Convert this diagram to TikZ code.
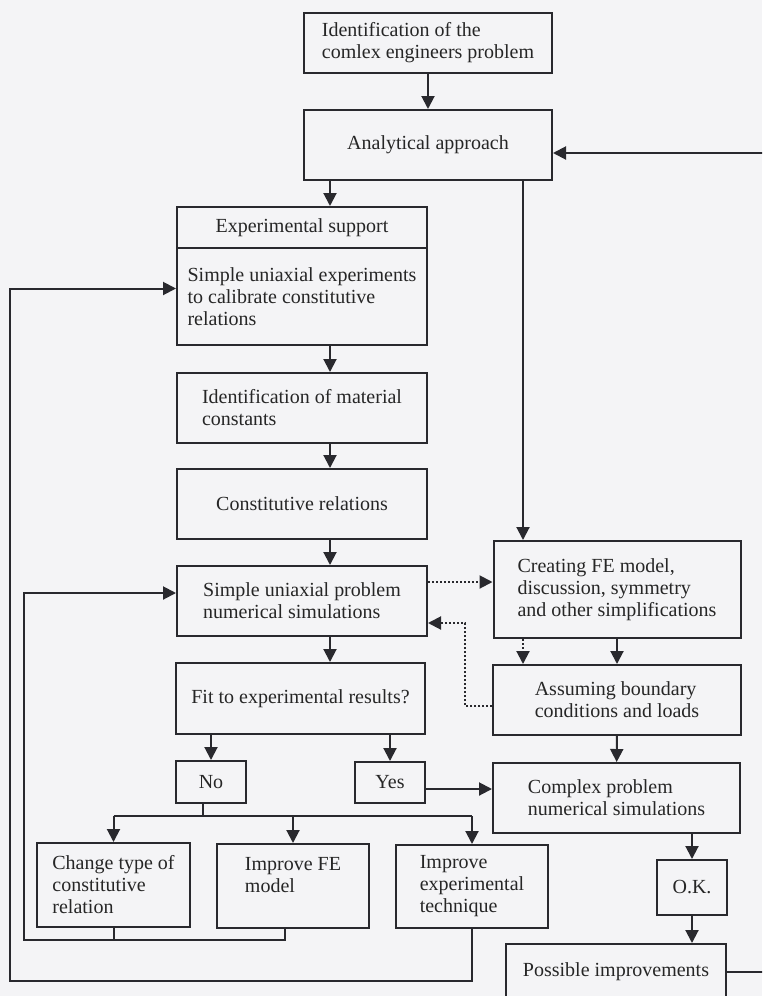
\documentclass[tikz,border=0pt]{standalone}
\usepackage{fontspec}
\setmainfont{Liberation Serif}
\usetikzlibrary{arrows.meta}
\definecolor{paper}{rgb}{0.955,0.955,0.965}
\definecolor{ink}{rgb}{0.16,0.16,0.18}

\begin{document}
\begin{tikzpicture}[x=0.5pt, y=-0.5pt, box/.style = {shape=rectangle, draw=ink, line width=1pt, align=left, text=black!85, inner sep=2pt, font=\fontsize{10}{11}\selectfont}, arr/.style = {draw=ink, line width=1pt, -{Triangle[length=6.5pt, width=6.5pt]}}, dotarr/.style = {arr, densely dotted}, wire/.style = {draw=ink, line width=1pt}]
	\useasboundingbox (0,0) rectangle (762,996);
	\clip (0,0) rectangle (762,996);
	\fill[paper] (0,0) rectangle (762,996);

	\node[box, minimum width=124pt, minimum height=30pt] (ident) at (428,43) {Identification of the\\comlex engineers problem};
	\node[box, minimum width=124pt, minimum height=35pt] (anal) at (428,145) {Analytical approach};
	\node[box, minimum width=125pt, minimum height=20.5pt] (expsup) at (302,227.5) {Experimental support};
	\node[box, minimum width=125pt, minimum height=48.5pt] (simexp) at (302,296.5) {Simple uniaxial experiments\\to calibrate constitutive\\relations};
	\node[box, minimum width=125pt, minimum height=35pt] (matconst) at (302,408) {Identification of material\\constants};
	\node[box, minimum width=125pt, minimum height=35pt] (constrel) at (302,504) {Constitutive relations};
	\node[box, minimum width=125pt, minimum height=35pt] (simprob) at (302,601) {Simple uniaxial problem\\numerical simulations};
	\node[box, minimum width=124.5pt, minimum height=35.5pt] (fit) at (300.5,698.5) {Fit to experimental results?};
	\node[box, minimum width=35pt, minimum height=21pt] (no) at (211,782) {No};
	\node[box, minimum width=35pt, minimum height=20.5pt] (yes) at (390,782.5) {Yes};
	\node[box, minimum width=76.5pt, minimum height=42pt] (change) at (113.5,885) {Change type of\\constitutive\\relation};
	\node[box, minimum width=76pt, minimum height=42pt] (impfe) at (293,886) {Improve FE\\model\\\mbox{}};
	\node[box, minimum width=76pt, minimum height=41.5pt] (impexp) at (472,886.5) {Improve\\experimental\\technique};
	\node[box, minimum width=123.5pt, minimum height=48.5pt] (creating) at (617,589.5) {Creating FE model,\\discussion, symmetry\\and other simplifications};
	\node[box, minimum width=124pt, minimum height=35pt] (assuming) at (617,700) {Assuming boundary\\conditions and loads};
	\node[box, minimum width=123.5pt, minimum height=35pt] (complex) at (616.5,798) {Complex problem\\numerical simulations};
	\node[box, minimum width=35pt, minimum height=27.5pt] (ok) at (692,887.5) {O.K.};
	\node[box, minimum width=110pt, minimum height=28pt] (possible) at (616,972) {Possible improvements};

	\coordinate (cx) at (330,0);
	\coordinate (rx) at (523,0);
	\coordinate (nb) at (203,816);
	\coordinate (inner) at (24,940);
	\coordinate (outer) at (10,981);
	\coordinate (d1) at ([yshift=9.5pt]simprob.east);
	\coordinate (d2) at ([yshift=-3pt]assuming.west);
	\coordinate (d3) at ([yshift=-11pt]simprob.east);
	\coordinate (ya) at ([yshift=-3.25pt]yes.east);
	\coordinate (ra) at ([yshift=-4pt]anal.east);
	\coordinate (pa) at ([yshift=4pt]simprob.west);
	\coordinate (pe) at ([yshift=4pt]simexp.west);
	\coordinate (fb) at ([xshift=-4pt]impfe.south);

	\draw[arr] (ident) -- (anal);
	\draw[arr] (anal.south -| cx) -- (expsup.north -| cx);
	\foreach \a/\b in {simexp/matconst, matconst/constrel, constrel/simprob, simprob/fit}
		\draw[arr] (\a.south -| cx) -- (\b.north -| cx);
	\draw[arr] (anal.south -| rx) -- (creating.north -| rx);
	\draw[dotarr] (d1) -- (d1 -| creating.west);
	\draw[dotarr] (d2) -- ++(-27,0) |- (d3);
	\draw[dotarr] (creating.south -| rx) -- (assuming.north -| rx);
	\draw[arr] (creating) -- (assuming);
	\draw[arr] (assuming) -- (complex);
	\draw[arr] (fit.south -| no) -- (no);
	\draw[arr] (fit.south -| yes) -- (yes);
	\draw[arr] (ya) -- (ya -| complex.west);
	\draw[wire] (no.south -| nb) -- (nb);
	\draw[wire] (change.north |- nb) -- (impexp.north |- nb);
	\foreach \n in {change, impfe, impexp}
		\draw[arr] (\n.north |- nb) -- (\n.north);
	\draw[arr] (complex.south -| ok) -- (ok);
	\draw[arr] (ok) -- (ok |- possible.north);
	\draw[arr] (possible.east) -- ++(60,0) |- (ra);
	\draw[wire] (change.south) -- (change.south |- inner);
	\draw[arr] (fb) |- (inner) |- (pa);
	\draw[arr] (impexp.south) |- (outer) |- (pe);
\end{tikzpicture}
\end{document}
